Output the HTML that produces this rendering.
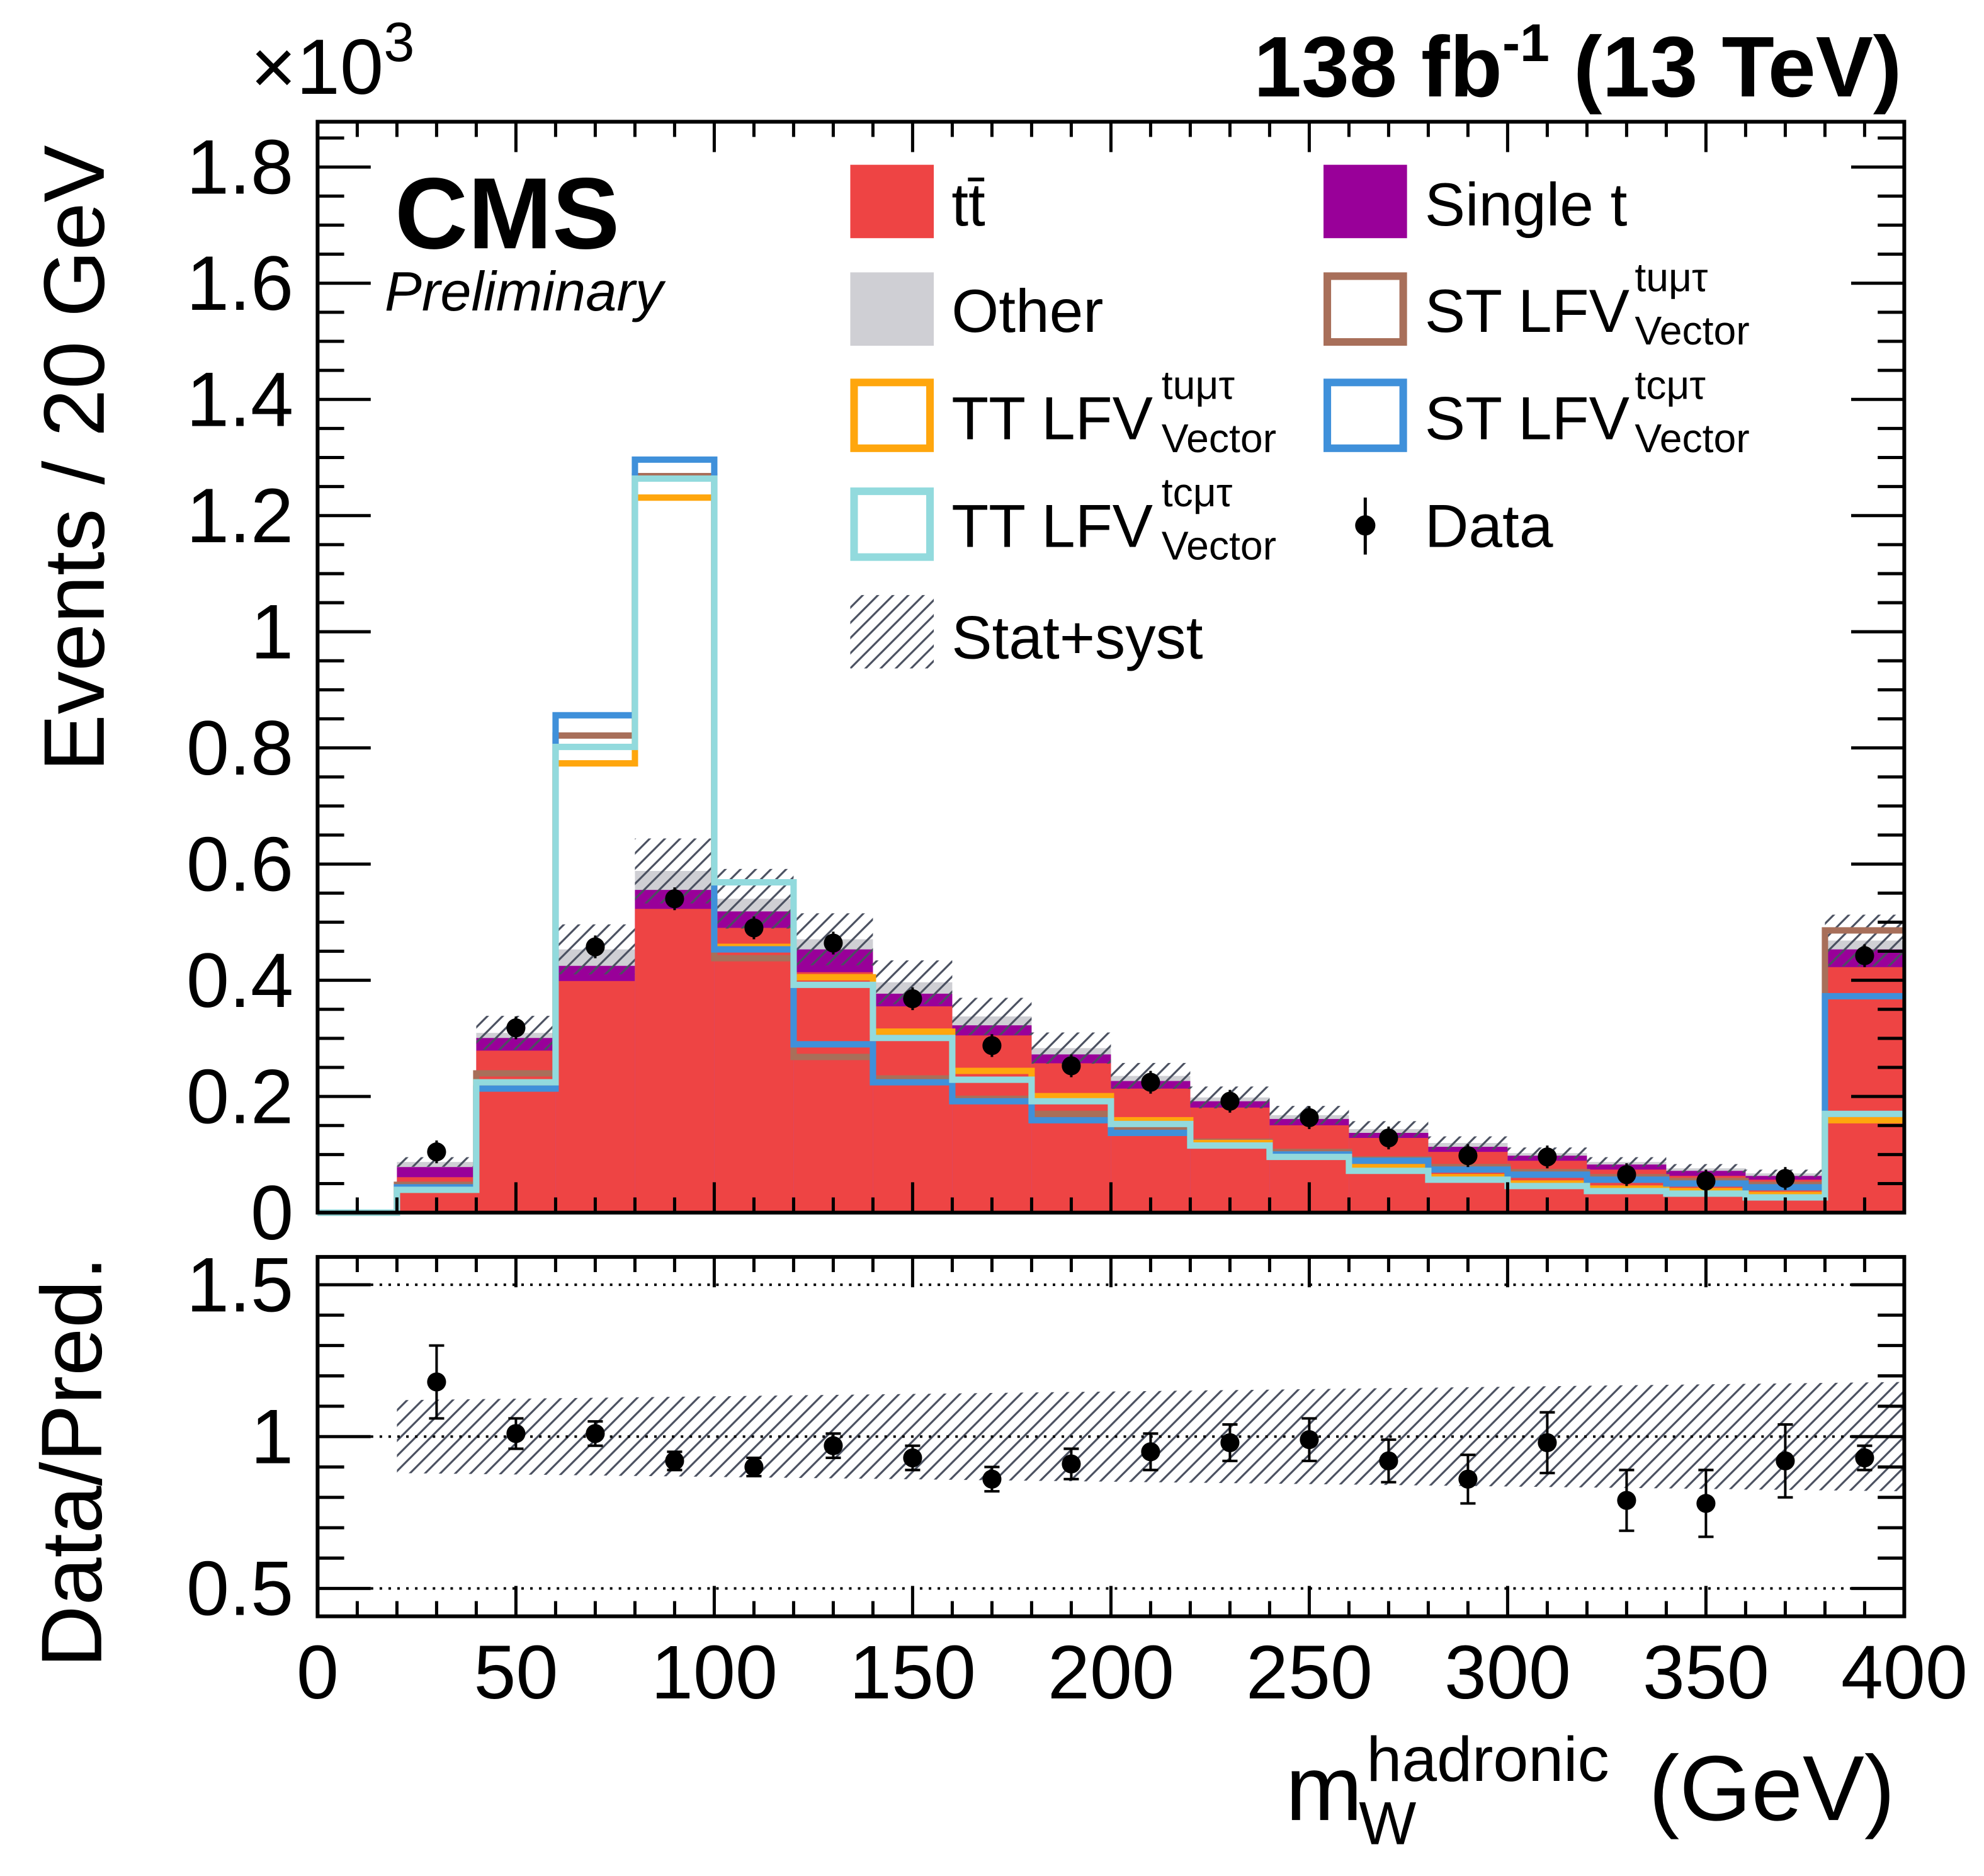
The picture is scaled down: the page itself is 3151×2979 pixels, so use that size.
<!DOCTYPE html>
<html><head><meta charset="utf-8"><style>html,body{margin:0;padding:0;background:#fff}svg{display:block}</style></head>
<body>
<svg id="s" xmlns="http://www.w3.org/2000/svg" width="3151" height="2979" viewBox="0 0 1568 1482" font-family="Liberation Sans, sans-serif">
<defs>
<pattern id="h" patternUnits="userSpaceOnUse" width="12" height="12"><path d="M-3,15 L15,-3 M-3,3 L3,-3 M9,15 L15,9" stroke="#4a5060" stroke-width="1.6"/></pattern>
</defs>
<g id="g"></g>
</svg>
<script>
const g=document.getElementById('g');let o='';
const X=v=>251+v*3.135, W=62.7;
const red=[958,930,830,775,718,733,768,795,818,840,860,875,889,899,910,917,924,929,932,764];
const pur=[958,922,820,763,703,720,750,785,810,833,854,870,884,895,906,913,920,925,929,750];
const gry=[958,918,816,750,688,710,742,776,803,828,850,867,881,892,903,911,918,923,927,743];
for(let i=1;i<20;i++){const x=X(i*20);
o+=`<rect x="${x}" y="${gry[i]}" width="${W}" height="${958-gry[i]}" fill="#cfcfd4"/>`;
o+=`<rect x="${x}" y="${pur[i]}" width="${W}" height="${958-pur[i]}" fill="#990099"/>`;
o+=`<rect x="${x}" y="${red[i]}" width="${W}" height="${958-red[i]}" fill="#ee4444"/>`;
const e=(958-gry[i])*0.095;o+=`<rect x="${x}" y="${gry[i]-e}" width="${W}" height="${2*e}" fill="url(#h)"/>`;}
function step(a,c){let d=`M${X(0)},${a[0]}`;for(let i=0;i<20;i++){d+=` L${X(i*20)},${a[i]} L${X(i*20+20)},${a[i]}`;}o+=`<path d="${d}" fill="none" stroke="${c}" stroke-width="5"/>`;}
step([958,936,848,581,376,757,835,852,868,880,892,902,910,916,922,926,930,933,936,735],'#a86f5a');
step([958,940,855,603,393,748,772,815,846,866,885,903,912,922,930,935,939,941,944,885],'#ffa60d');
step([958,938,860,565,363,750,825,855,870,885,895,905,912,917,924,928,932,935,938,787],'#3f90da');
step([958,940,855,590,378,697,778,820,853,870,888,905,914,925,932,937,941,943,946,880],'#92dadd');
const dp=[0,910,812,748,710,733,745,789,826,842,855,870,883,899,913,914,928,933,931,755];
for(let i=1;i<20;i++){const x=X(i*20+10);o+=`<line x1="${x}" x2="${x}" y1="${dp[i]-9}" y2="${dp[i]+9}" stroke="#000" stroke-width="2"/><circle cx="${x}" cy="${dp[i]}" r="7.5"/>`;}
function frame(y0,y1){o+=`<rect x="251" y="${y0}" width="1254" height="${y1-y0}" fill="none" stroke="#000" stroke-width="3"/>`;
for(let v=0;v<=400;v+=10){const x=X(v),L=v%50?12:24;o+=`<line x1="${x}" x2="${x}" y1="${y1}" y2="${y1-L}" stroke="#000" stroke-width="2.5"/><line x1="${x}" x2="${x}" y1="${y0}" y2="${y0+L}" stroke="#000" stroke-width="2.5"/>`;}}
frame(96,958);
for(let k=0;k<=37;k++){const y=958-k*22.95,L=k%4?21:42;if(y<97)break;o+=`<line x1="251" x2="${251+L}" y1="${y}" y2="${y}" stroke="#000" stroke-width="2.5"/><line x1="1505" x2="${1505-L}" y1="${y}" y2="${y}" stroke="#000" stroke-width="2.5"/>`;}
const yl=['0','0.2','0.4','0.6','0.8','1','1.2','1.4','1.6','1.8'];
yl.forEach((t,k)=>{o+=`<text x="232" y="${958-k*91.8+21}" font-size="61" text-anchor="end">${t}</text>`;});
const R=r=>1135-240*(r-1);
o+=`<path d="M${X(20)},${R(1.12)} L${X(400)},${R(1.18)} L${X(400)},${R(0.82)} L${X(20)},${R(0.88)}Z" fill="url(#h)"/>`;
[1.5,1,0.5].forEach(r=>{o+=`<line x1="251" x2="1505" y1="${R(r)}" y2="${R(r)}" stroke="#000" stroke-width="2" stroke-dasharray="2,5"/>`;});
frame(993,1277);
for(let k=0;k<=12;k++){const r=0.4+k*0.1,y=R(r);if(y>1277||y<993)continue;const L=(Math.round(r*10)%5)?21:42;o+=`<line x1="251" x2="${251+L}" y1="${y}" y2="${y}" stroke="#000" stroke-width="2.5"/><line x1="1505" x2="${1505-L}" y1="${y}" y2="${y}" stroke="#000" stroke-width="2.5"/>`;}
[['1.5',1.5],['1',1],['0.5',0.5]].forEach(([t,r])=>{o+=`<text x="232" y="${R(r)+21}" font-size="61" text-anchor="end">${t}</text>`;});
const rv=[0,1.18,1.01,1.01,0.92,0.9,0.97,0.93,0.86,0.91,0.95,0.98,0.99,0.92,0.86,0.98,0.79,0.78,0.92,0.93];
const re=[0,.12,.05,.04,.03,.03,.04,.04,.04,.05,.06,.06,.07,.07,.08,.1,.1,.11,.12,.04];
for(let i=1;i<20;i++){const x=X(i*20+10),y=R(rv[i]),e=re[i]*240;o+=`<line x1="${x}" x2="${x}" y1="${y-e}" y2="${y+e}" stroke="#000" stroke-width="2"/><line x1="${x-6}" x2="${x+6}" y1="${y-e}" y2="${y-e}" stroke="#000" stroke-width="2"/><line x1="${x-6}" x2="${x+6}" y1="${y+e}" y2="${y+e}" stroke="#000" stroke-width="2"/><circle cx="${x}" cy="${y}" r="7.5"/>`;}
for(let v=0;v<=400;v+=50)o+=`<text x="${X(v)}" y="1342" font-size="60" text-anchor="middle">${v}</text>`;
function box(x,y,fill,stroke){o+=stroke?`<rect x="${x+3}" y="${y+3}" width="60" height="52" fill="none" stroke="${stroke}" stroke-width="6"/>`:`<rect x="${x}" y="${y}" width="66" height="58" fill="${fill}"/>`;}
box(672,130,'#ee4444');box(672,215,'#cfcfd4');box(672,299,0,'#ffa60d');box(672,385,0,'#92dadd');
o+=`<rect x="672" y="470" width="66" height="58" fill="url(#h)"/>`;
box(1046,130,'#990099');box(1046,215,0,'#a86f5a');box(1046,299,0,'#3f90da');
o+=`<line x1="1079" x2="1079" y1="393" y2="438" stroke="#000" stroke-width="2.5"/><circle cx="1079" cy="415" r="8"/>`;
const T=(x,y,s,t,extra='')=>{o+=`<text x="${x}" y="${y}" font-size="${s}" ${extra}>${t}</text>`;};
T(752,178,48,'tt̄');T(752,262,48,'Other');T(752,520,48,'Stat+syst');T(1126,178,48,'Single t');T(1126,432,48,'Data');
function lfv(x,y,p,s){T(x,y,48,p+' LFV');T(x+166,y-32,32,s);T(x+166,y+10,32,'Vector');}
lfv(752,347,'TT','tuμτ');lfv(752,432,'TT','tcμτ');lfv(1126,262,'ST','tuμτ');lfv(1126,347,'ST','tcμτ');
T(312,196,80,'CMS','font-weight="bold"');T(304,245,44,'Preliminary','font-style="italic"');
T(1503,76,68,'138 fb<tspan dy="-28" font-size="42">-1</tspan><tspan dy="28"> (13 TeV)</tspan>','font-weight="bold" text-anchor="end"');
T(198,74,62,'×10<tspan dy="-26" font-size="44">3</tspan>');
o+=`<text transform="translate(82,362) rotate(-90)" font-size="68" text-anchor="middle">Events / 20 GeV</text>`;
o+=`<text transform="translate(80,1155) rotate(-90)" font-size="68" text-anchor="middle">Data/Pred.</text>`;
T(1016,1438,73,'m');T(1074,1457,48,'W');T(1080,1407,50,'hadronic');T(1303,1438,73,'(GeV)');
g.innerHTML=o;
</script>
</body></html>
